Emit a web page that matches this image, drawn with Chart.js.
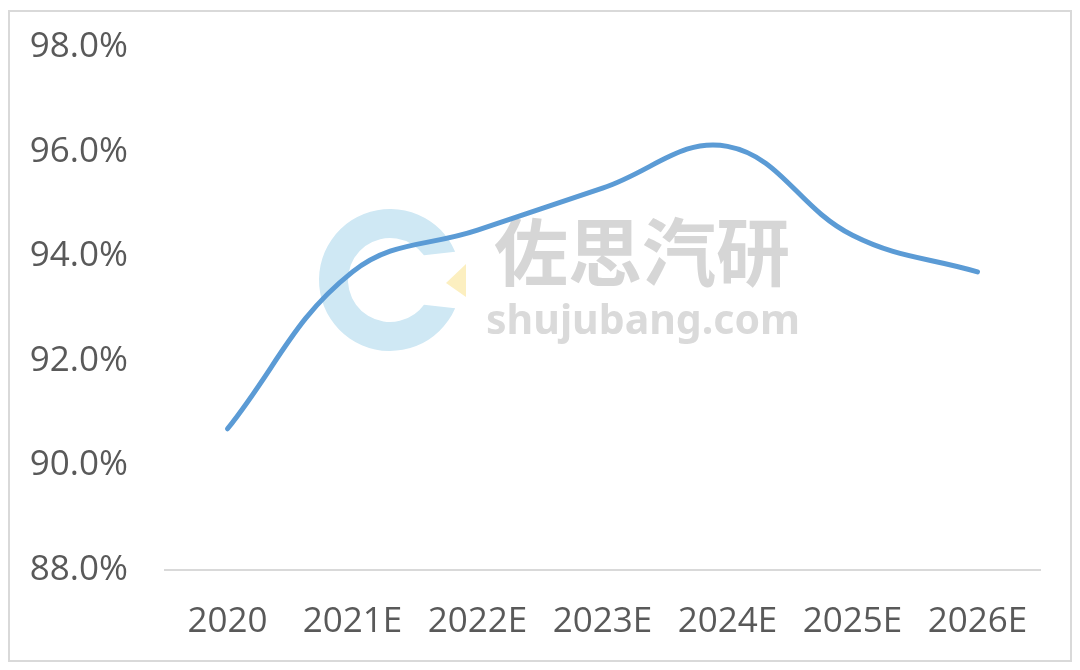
<!DOCTYPE html>
<html>
<head>
<meta charset="utf-8">
<script src="https://cdn.jsdelivr.net/npm/chart.js@4.4.1/dist/chart.umd.min.js"></script>
<style>
  html, body { margin: 0; padding: 0; background: #fff; }
  #wrap { position: relative; width: 1080px; height: 670px; }
</style>
</head>
<body>
<div id="wrap"><canvas id="chart" width="1080" height="670"></canvas></div>
<script>
const years = ['2020', '2021E', '2022E', '2023E', '2024E', '2025E', '2026E'];
const rates = [90.7, 93.7, 94.5, 95.3, 96.1, 94.4, 93.7];
const yTicks = [88, 90, 92, 94, 96, 98];

// outer frame + watermark behind the line
const backdrop = {
    id: 'backdrop',
    beforeDraw(chart) {
        const ctx = chart.ctx;
        ctx.save();
        ctx.strokeStyle = '#d9d9d9';
        ctx.lineWidth = 2;
        ctx.strokeRect(9, 11, 1062, 650);
        ctx.restore();
    },
    beforeDatasetsDraw(chart) {
        const ctx = chart.ctx;
        ctx.save();
        // logo ring
        ctx.fillStyle = '#cfe8f4';
        ctx.beginPath();
        ctx.arc(390, 280, 71, Math.PI * 0.13, Math.PI * 1.87, false);
        ctx.arc(390, 280, 42, Math.PI * 1.8, Math.PI * 0.2, true);
        ctx.closePath();
        ctx.fill();
        ctx.fillStyle = '#fcefc0';
        ctx.beginPath();
        ctx.moveTo(466, 264);
        ctx.lineTo(466, 297);
        ctx.lineTo(446, 283);
        ctx.closePath();
        ctx.fill();
        // text
        ctx.fillStyle = '#d6d6d6';
        ctx.textBaseline = 'middle';
        ctx.textAlign = 'left';
        ctx.font = 'bold 74px "Noto Sans CJK SC"';
        ctx.fillText('佐思汽研', 494, 252);
        ctx.fillStyle = '#dadada';
        ctx.font = 'bold 41px "Noto Sans", "Open Sans"';
        ctx.fillText('shujubang.com', 486, 322);
        ctx.restore();
    }
};

new Chart(document.getElementById('chart'), {
    type: 'line',
    data: {
        labels: years,
        datasets: [{
            data: rates,
            borderColor: '#5b9bd5',
            borderWidth: 5,
            borderCapStyle: 'round',
            tension: 0.4,
            pointRadius: 0,
            fill: false
        }]
    },
    options: {
        responsive: false,
        animation: false,
        layout: { padding: { top: 47, right: 40, bottom: 0, left: 0 } },
        plugins: { legend: { display: false }, tooltip: { enabled: false } },
        scales: {
            x: {
                offset: true,
                grid: { display: false, drawTicks: false },
                border: { display: true, color: '#d9d9d9', width: 2 },
                ticks: {
                    color: '#595959',
                    font: { family: '"Open Sans", "Noto Sans"', size: 35 },
                    padding: 31,
                    maxRotation: 0
                },
                afterFit(scale) { scale.height = 100; }
            },
            y: {
                min: 88,
                max: 98,
                afterBuildTicks(scale) { scale.ticks = yTicks.map(v => ({ value: v })); },
                grid: { display: false, drawTicks: false },
                border: { display: false },
                ticks: {
                    color: '#595959',
                    font: { family: '"Open Sans", "Noto Sans"', size: 35 },
                    padding: 37,
                    callback: v => v.toFixed(1) + '%'
                },
                afterFit(scale) {
                    scale.width = 165;
                    scale.paddingTop = 10;
                    scale.paddingBottom = 10;
                }
            }
        }
    },
    plugins: [backdrop]
});
</script>
</body>
</html>
